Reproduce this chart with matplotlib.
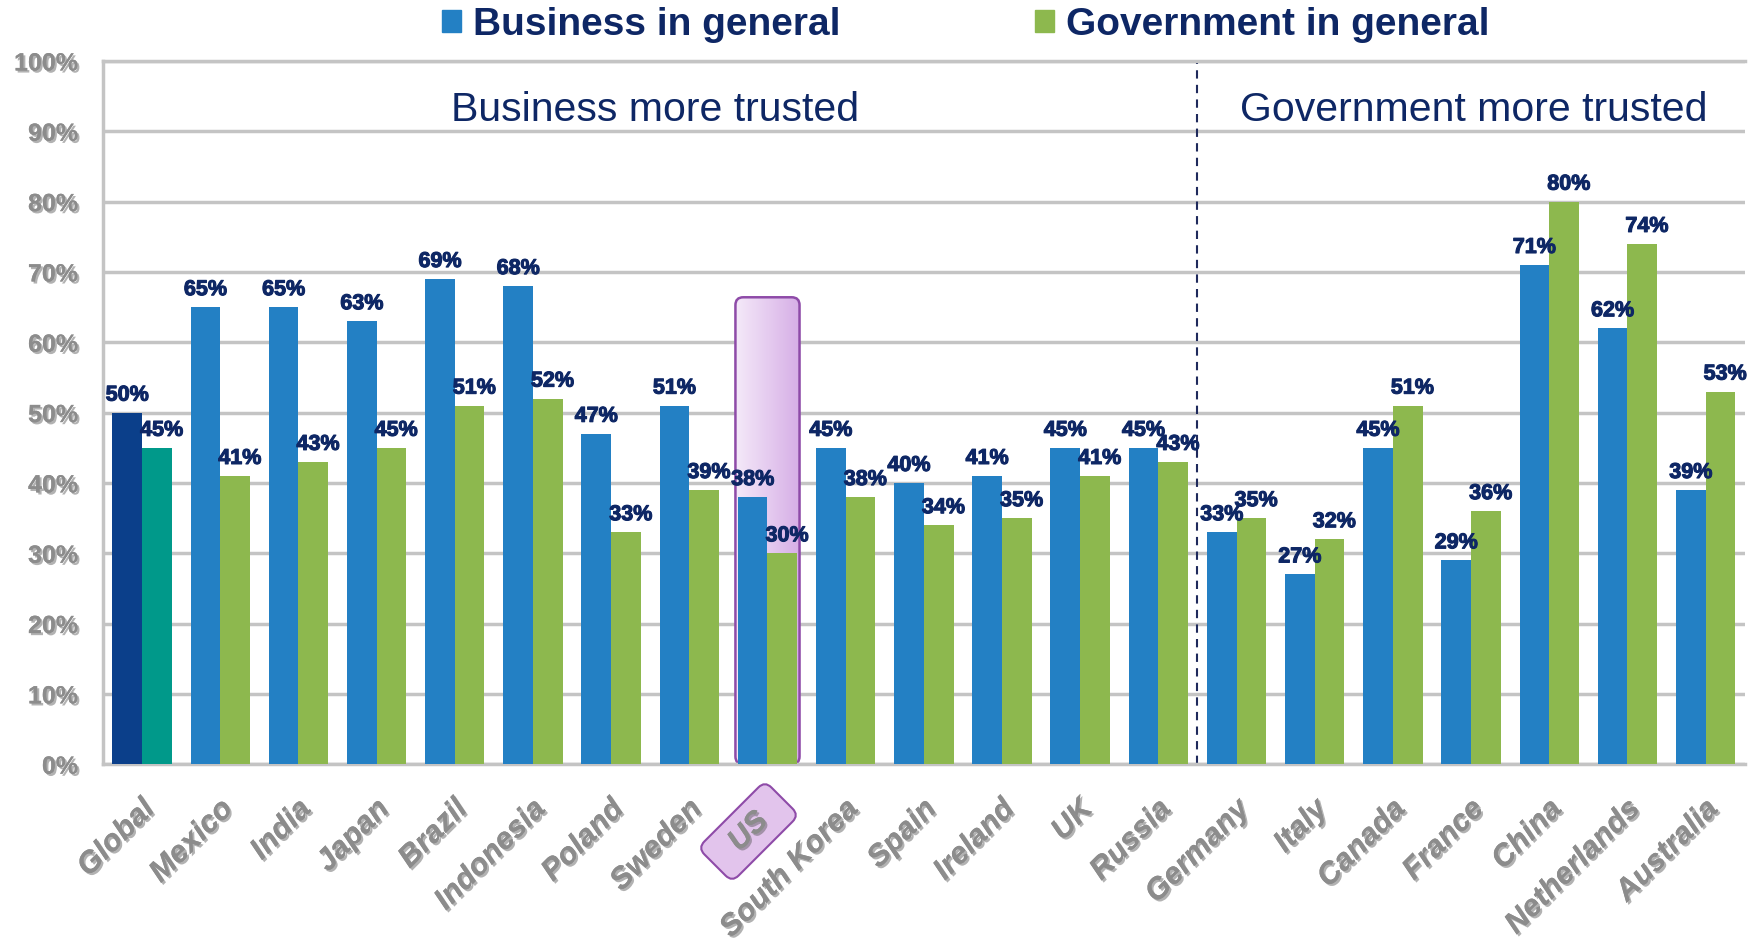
import numpy as np
import matplotlib
matplotlib.use("Agg")
import matplotlib.pyplot as plt
import matplotlib.patheffects as pe
from matplotlib.patches import FancyBboxPatch, Patch
from matplotlib.colors import LinearSegmentedColormap
from matplotlib.transforms import ScaledTranslation

plt.rcParams["font.family"] = ["Liberation Sans", "DejaVu Sans"]

countries = ["Global", "Mexico", "India", "Japan", "Brazil", "Indonesia", "Poland",
             "Sweden", "US", "South Korea", "Spain", "Ireland", "UK", "Russia",
             "Germany", "Italy", "Canada", "France", "China", "Netherlands", "Australia"]
business = [50, 65, 65, 63, 69, 68, 47, 51, 38, 45, 40, 41, 45, 45, 33, 27, 45, 29, 71, 62, 39]
government = [45, 41, 43, 45, 51, 52, 33, 39, 30, 38, 34, 35, 41, 43, 35, 32, 51, 36, 80, 74, 53]
yticks = list(range(0, 101, 10))

navy = "#0E2765"
grey_txt = "#8C8C8C"
grid_c = "#C4C4C4"

fig = plt.figure(figsize=(17.52, 9.47), dpi=100)
ax = fig.add_axes([0.0588, 0.193, 0.937, 0.7426])

x = np.arange(len(countries))
w = 0.38
blue = ["#0B3F8A"] + ["#2380C4"] * (len(countries) - 1)
green = ["#00998A"] + ["#8DB84E"] * (len(countries) - 1)

ax.bar(x - w / 2, business, w, color=blue, zorder=3)
ax.bar(x + w / 2, government, w, color=green, zorder=3)

# labels look heavy in the original, a thin stroke fattens them a bit
fat = [pe.withStroke(linewidth=0.8, foreground=navy)]
for xi, b, g in zip(x, business, government):
    for xx, v in ((xi - w / 2, b), (xi + w / 2 + 0.06, g)):
        ax.annotate(f"{v}%", (xx, v), xytext=(0, 5), textcoords="offset points",
                    ha="center", va="bottom", fontsize=15.5, fontweight="bold",
                    color=navy, zorder=5, path_effects=fat)

# highlight box behind the US bars
i_us = countries.index("US")
bx0, bx1, btop = i_us - 0.41, i_us + 0.41, 66.4
box = FancyBboxPatch((bx0, 0), bx1 - bx0, btop,
                     boxstyle="round,pad=0,rounding_size=0.1", mutation_aspect=11.1,
                     fc="none", ec="#8E4BA8", lw=1.8, zorder=2)
ax.add_patch(box)
cmap = LinearSegmentedColormap.from_list("lav", ["#F5EAF9", "#D6AEE6"])
im = ax.imshow(np.linspace(0, 1, 256).reshape(1, -1), cmap=cmap,
               extent=[bx0, bx1, 0, btop], aspect="auto", zorder=1)
im.set_clip_path(box)

ax.axvline(13.5, color="#1F2A5C", ls=(0, (4, 3)), lw=1.5, zorder=2)

ax.text(6.56, 93, "Business more trusted", ha="center", va="center",
        fontsize=29.5, color=navy)
ax.text(17.03, 93, "Government more trusted", ha="center", va="center",
        fontsize=29.5, color=navy)

ax.set_xlim(-0.5, len(countries) - 0.5)
ax.set_ylim(0, 100)
ax.set_yticks(yticks)
ax.set_yticklabels([f"{t}%" for t in yticks])
ax.yaxis.grid(True, color=grid_c, lw=2.5)
ax.set_axisbelow(True)
for s in ("left", "bottom", "top"):
    ax.spines[s].set_color(grid_c)
    ax.spines[s].set_linewidth(2.5)
ax.spines["right"].set_visible(False)

shadow = [pe.withSimplePatchShadow(offset=(1.5, -1.5), shadow_rgbFace="#555555", alpha=0.45),
          pe.Normal()]

ax.tick_params(axis="y", length=0, pad=18, labelsize=18, labelcolor=grey_txt)
for lbl in ax.get_yticklabels():
    lbl.set_fontweight("bold")
    lbl.set_path_effects(shadow)

ax.set_xticks(x)
names = ["  US  " if c == "US" else c for c in countries]
ax.set_xticklabels(names, rotation=45, ha="right", va="center", rotation_mode="anchor",
                   fontsize=22, fontweight="bold", style="italic", color=grey_txt)
ax.tick_params(axis="x", length=0, pad=29)
offset = ScaledTranslation(0.08, 0, fig.dpi_scale_trans)
for lbl in ax.get_xticklabels():
    lbl.set_transform(lbl.get_transform() + offset)
    lbl.set_path_effects(shadow)
us_lbl = ax.get_xticklabels()[i_us]
us_lbl.set_bbox(dict(boxstyle="round,pad=0.3", fc="#E2C4EC", ec="#8E4BA8", lw=1.5))

handles = [Patch(color="#2380C4"), Patch(color="#8DB84E")]
fig.legend(handles, ["Business in general", "Government in general"], loc="center",
           bbox_to_anchor=(0.551, 0.974), ncol=2, frameon=False,
           prop=dict(weight="bold", size=28), labelcolor=navy,
           handlelength=0.5, handleheight=0.5, handletextpad=0.3, columnspacing=5)

fig.savefig("out.png", dpi=100)
